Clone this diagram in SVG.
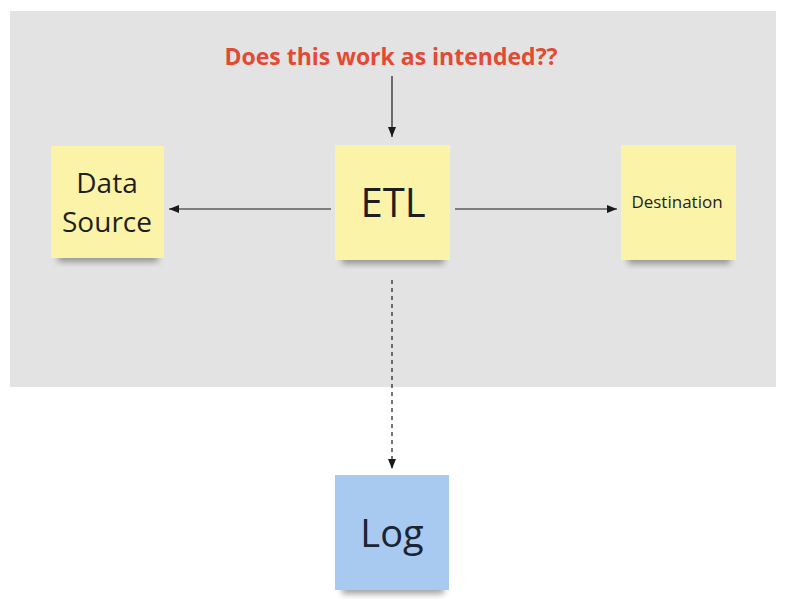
<svg xmlns="http://www.w3.org/2000/svg" width="788" height="610" viewBox="0 0 788 610">
<defs>
<style>
.note{fill:#fbf4a8}
.blue{fill:#a8caf1}
.lbl{font-family:"Open Sans","Noto Sans",sans-serif;fill:#1e1e1e;text-anchor:middle}
.edge{stroke:#1a1a1a;stroke-width:1.2;fill:none}
</style>
<filter id="sh" x="-20%" y="-50%" width="140%" height="200%"><feGaussianBlur stdDeviation="3"/></filter>
<marker id="ah" viewBox="0 0 10 10" refX="10" refY="5" markerWidth="10" markerHeight="10" markerUnits="userSpaceOnUse" orient="auto"><path d="M0,1 L10,5 L0,9 z" fill="#1a1a1a"/></marker>
</defs>
<rect width="788" height="610" fill="#ffffff"/>
<rect x="10" y="11" width="766" height="376" fill="#e3e3e3"/>
<text x="391" y="65" font-family="'Open Sans','Noto Sans',sans-serif" font-weight="bold" font-size="23" fill="#e24a33" text-anchor="middle">Does this work as intended??</text>
<g id="connectors">
<line class="edge" x1="392" y1="76" x2="392" y2="137" marker-end="url(#ah)"/>
<line class="edge" x1="331" y1="209" x2="169" y2="209" marker-end="url(#ah)"/>
<line class="edge" x1="455" y1="209" x2="617" y2="209" marker-end="url(#ah)"/>
<line class="edge" x1="392" y1="280" x2="392" y2="469" stroke-dasharray="4,4" marker-end="url(#ah)"/>
</g>
<g id="data-source">
<rect x="58" y="252" width="100" height="10" fill="#555" opacity="0.55" filter="url(#sh)"/>
<rect class="note" x="51" y="146" width="113" height="112"/>
<text class="lbl" x="107" y="193" font-size="28">Data</text>
<text class="lbl" x="107" y="232" font-size="28">Source</text>
</g>
<g id="etl">
<rect x="342" y="254" width="102" height="10" fill="#555" opacity="0.55" filter="url(#sh)"/>
<rect class="note" x="335" y="145" width="115" height="115"/>
<text class="lbl" x="393" y="217" font-size="40">ETL</text>
</g>
<g id="destination">
<rect x="628" y="254" width="102" height="10" fill="#555" opacity="0.55" filter="url(#sh)"/>
<rect class="note" x="621" y="145" width="115" height="115"/>
<text class="lbl" x="677" y="208" font-size="17">Destination</text>
</g>
<g id="log">
<rect x="342" y="584" width="102" height="10" fill="#555" opacity="0.55" filter="url(#sh)"/>
<rect class="blue" x="335" y="475" width="114" height="115"/>
<text class="lbl" x="392" y="547" font-size="38" style="fill:#1a2433">Log</text>
</g>
</svg>
